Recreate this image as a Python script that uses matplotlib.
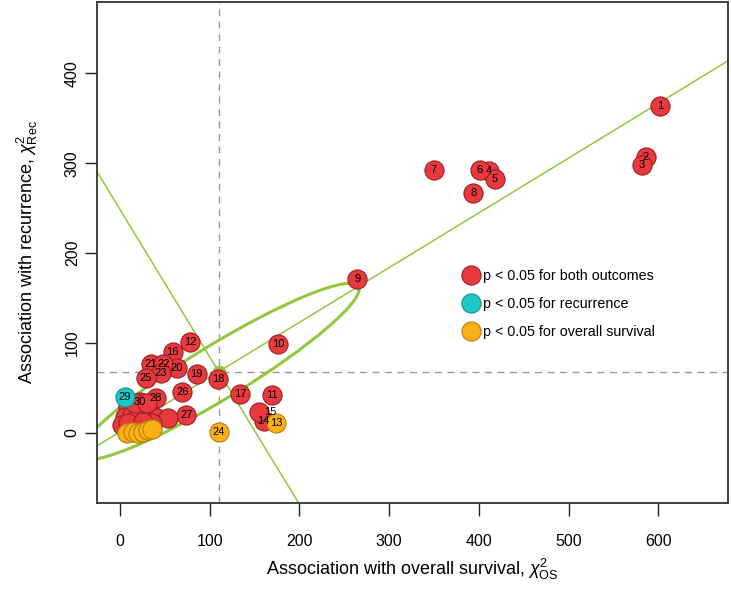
import matplotlib
matplotlib.use("Agg")
import matplotlib.pyplot as plt
from matplotlib.patches import Ellipse
from matplotlib.lines import Line2D
import numpy as np

plt.rcParams['font.family'] = ['Liberation Sans', 'DejaVu Sans']
plt.rcParams['mathtext.fontset'] = 'custom'
plt.rcParams['mathtext.rm'] = 'Liberation Sans'
plt.rcParams['mathtext.it'] = 'Liberation Sans:italic'

# chi-square of each gene signature vs overall survival (x) and recurrence (y)
labels = ['1', '2', '3', '4', '5', '6', '7', '8', '9', '10', '11', '12', '14',
          '15', '16', '17', '18', '19', '20', '21', '22', '23', '25', '26', '27', '28', '30',
          '', '', '', '', '', '', '', '', '', '', '', '', '', '', '',
          '29',
          '13', '24', '', '', '', '', '', '']
chi_os = [602, 586, 582, 411, 418, 401, 350, 394, 264.5, 176.5, 169, 78, 160,
          155, 58.7, 134, 109.6, 85.5, 63.2, 34.2, 48.3, 45.4, 28.6, 69.5, 74, 39.8, 22.3,
          9.3, 16.7, 26, 33.4, 41, 54, 5.6, 13, 20.4, 2, 9.3, 35.3, 26, 16.7, 29.7,
          5.5,
          174, 110.4, 7.4, 14.8, 20.4, 26, 31.6, 35.3]
chi_rec = [364, 307, 298, 291, 283, 292, 293, 267, 171.5, 98.6, 42, 101, 13.3,
           23, 90, 43, 59.3, 65, 71.6, 76, 76, 66, 61, 45.6, 19.5, 38.2, 34.4,
           29, 27, 27, 21.5, 16, 16, 17.8, 19.7, 17.8, 8.6, 10.4, 10.4, 12.2, 32.7, 32.7,
           40,
           10.4, 1.1, 0, 1.1, 0, 1.1, 3, 3.7]
group = (['both'] * 42) + ['rec'] + (['os'] * 8)
# label nudges (points) where the label was moved off its point
label_nudge = {'15': (8, 0)}

# ellipse / principal axes and the significance cut-offs
center = (110, 68)
major_slope = 0.6094
semi_major, semi_minor = 182.6, 30
cut_os, cut_rec = 110, 68

fill = {'both': '#E8393F', 'rec': '#1EC6C6', 'os': '#FBB116'}
edge = {'both': '#9A1F22', 'rec': '#13908F', 'os': '#B57F0B'}
green = '#92C83E'

fig = plt.figure(figsize=(7.31, 5.89), dpi=100)
ax = fig.add_axes([96.5 / 731, 86 / 589, 631.5 / 731, 501 / 589])
ax.set_xlim(-26.2, 677.8)
ax.set_ylim(-78.2, 479.5)

# dashed cut-off lines
ax.axvline(cut_os, color='#9A9A9A', lw=1, ls=(0, (5, 4)), zorder=1)
ax.axhline(cut_rec, color='#9A9A9A', lw=1, ls=(0, (5, 4)), zorder=1)

# principal axes and ellipse
ax.axline(center, slope=major_slope, color=green, lw=1.1, zorder=2)
ax.axline(center, slope=-1 / major_slope, color=green, lw=1.1, zorder=2)
angle = np.degrees(np.arctan(major_slope))
ax.add_patch(Ellipse(center, 2 * semi_major, 2 * semi_minor, angle=angle,
                     fill=False, edgecolor=green, lw=2.2, zorder=2))
ax.plot(*center, 'o', color=green, ms=9, zorder=2)

for g in ['both', 'rec', 'os']:
    xs = [x for x, gg in zip(chi_os, group) if gg == g]
    ys = [y for y, gg in zip(chi_rec, group) if gg == g]
    ax.scatter(xs, ys, s=190, c=fill[g], edgecolors=edge[g], linewidths=0.8, zorder=3)

for lab, x, y in zip(labels, chi_os, chi_rec):
    if lab:
        dx, dy = label_nudge.get(lab, (0, 0))
        ax.annotate(lab, (x, y), xytext=(dx, dy), textcoords='offset points',
                    ha='center', va='center', fontsize=8, color='black', zorder=4)

handles = [Line2D([], [], marker='o', ls='', ms=13.8, mfc=fill[g], mec=edge[g], mew=0.8)
           for g in ['both', 'rec', 'os']]
ax.legend(handles, ['p < 0.05 for both outcomes', 'p < 0.05 for recurrence',
                    'p < 0.05 for overall survival'],
          loc='upper left', bbox_to_anchor=(0.572, 0.479), frameon=False,
          fontsize=10.3, handlelength=1.0, handletextpad=0.35, labelspacing=1.0,
          borderaxespad=0)

for s in ax.spines.values():
    s.set_linewidth(1.3)
    s.set_color('#333333')
ax.set_xticks([0, 100, 200, 300, 400, 500, 600])
ax.set_yticks([0, 100, 200, 300, 400])
ax.tick_params(axis='both', direction='out', length=9, width=1, color='#222222',
               labelsize=11.5, pad=13)
ax.tick_params(axis='y', pad=3)
for t in ax.get_yticklabels():
    t.set_rotation(90)
    t.set_va('center')

ax.set_xlabel('Association with overall survival, $\\chi^2_{\\mathrm{OS}}$', fontsize=13, labelpad=6)
ax.set_ylabel('Association with recurrence, $\\chi^2_{\\mathrm{Rec}}$', fontsize=13, labelpad=18)

fig.savefig('out.png', dpi=100)
